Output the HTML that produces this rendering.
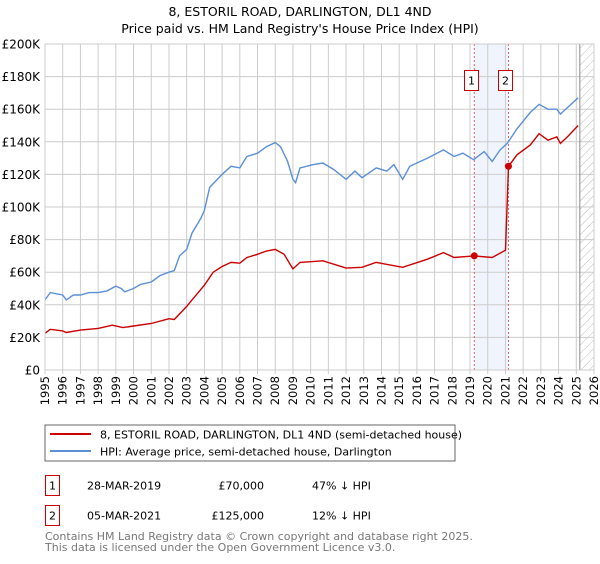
<!DOCTYPE html>
<html><head><meta charset="utf-8">
<style>
body{margin:0;background:#fff;width:600px;height:560px;overflow:hidden;font-family:"DejaVu Sans","Liberation Sans",sans-serif;}
svg text{font-family:"DejaVu Sans","Liberation Sans",sans-serif;}
</style></head>
<body>
<svg id="chart" width="600" height="560">
<defs>
<pattern id="hatch" width="6" height="6" patternUnits="userSpaceOnUse" patternTransform="rotate(45)">
<line x1="0" y1="0" x2="0" y2="6" stroke="#bbb" stroke-width="1"/>
</pattern>
</defs>
<text x="300" y="16" text-anchor="middle" font-size="12.5">8, ESTORIL ROAD, DARLINGTON, DL1 4ND</text>
<text x="300" y="33" text-anchor="middle" font-size="12.5">Price paid vs. HM Land Registry's House Price Index (HPI)</text>
<g id="grid"></g>
<g id="marks"></g>
<g id="axes"></g>
<rect x="45" y="425" width="410" height="36" fill="none" stroke="#666"/>
<line x1="50" y1="434" x2="91" y2="434" stroke="#cc0000" stroke-width="2"/>
<text x="100" y="438.5" font-size="11">8, ESTORIL ROAD, DARLINGTON, DL1 4ND (semi-detached house)</text>
<line x1="50" y1="451" x2="91" y2="451" stroke="#5b8fd6" stroke-width="2"/>
<text x="100" y="455.5" font-size="11">HPI: Average price, semi-detached house, Darlington</text>
<g>
<rect x="45.5" y="475.5" width="14" height="20" fill="none" stroke="#cc0000"/>
<text x="52.5" y="489.5" font-size="11" text-anchor="middle">1</text>
<text x="87" y="489.5" font-size="11">28-MAR-2019</text>
<text x="264" y="489.5" font-size="11" text-anchor="end">£70,000</text>
<text x="312" y="489.5" font-size="11">47% ↓ HPI</text>
</g>
<g>
<rect x="45.5" y="505.5" width="14" height="20" fill="none" stroke="#cc0000"/>
<text x="52.5" y="519.5" font-size="11" text-anchor="middle">2</text>
<text x="87" y="519.5" font-size="11">05-MAR-2021</text>
<text x="264" y="519.5" font-size="11" text-anchor="end">£125,000</text>
<text x="312" y="519.5" font-size="11">12% ↓ HPI</text>
</g>
<text x="45" y="540" font-size="11" fill="#777">Contains HM Land Registry data © Crown copyright and database right 2025.</text>
<text x="45" y="551" font-size="11" fill="#777">This data is licensed under the Open Government Licence v3.0.</text>
</svg>
<script>
const yearTicks=[1995,1996,1997,1998,1999,2000,2001,2002,2003,2004,2005,2006,2007,2008,2009,2010,2011,2012,2013,2014,2015,2016,2017,2018,2019,2020,2021,2022,2023,2024,2025,2026];
const valueTicks=[0,20,40,60,80,100,120,140,160,180,200];
const valueLabels=["£0","£20K","£40K","£60K","£80K","£100K","£120K","£140K","£160K","£180K","£200K"];
const hpiYears=[1995,1995.3,1996,1996.2,1996.6,1997,1997.5,1998,1998.5,1999,1999.3,1999.5,2000,2000.4,2001,2001.5,2002,2002.3,2002.6,2003,2003.3,2003.8,2004,2004.3,2005,2005.5,2006,2006.4,2007,2007.5,2008,2008.3,2008.7,2009,2009.15,2009.4,2010.15,2010.7,2011.3,2012.0,2012.5,2012.9,2013.7,2014.3,2014.7,2015.2,2015.6,2016.6,2017.5,2018.1,2018.6,2019.2,2019.8,2020.25,2020.7,2021.1,2021.65,2022.4,2022.9,2023.4,2023.9,2024.1,2024.5,2025.1];
const hpiValues=[43,47.5,46,43,46,46,47.5,47.5,48.5,51.5,50,48,50,52.5,54,58,60,61,70,74,84,93,98,112,120,125,124,131,133,137,139.5,137,128,117,115,124,126,127,123,117,122,118,124,122,126,117,125,130,135,131,133,129,134,128,135,139,148,158,163,160,160,157,161,167];
const priceYears=[1995,1995.3,1996,1996.2,1997,1998,1998.8,1999.4,2000,2001,2002,2002.3,2003,2003.3,2004,2004.5,2005,2005.5,2006,2006.4,2007,2007.5,2008,2008.5,2009,2009.4,2010.7,2012.0,2012.9,2013.7,2015.2,2016.6,2017.5,2018.1,2019.24,2020.25,2021.0,2021.17,2021.65,2022.4,2022.9,2023.4,2023.9,2024.1,2024.5,2025.1];
const priceValues=[22.5,25,24,23,24.5,25.5,27.5,26,27,28.5,31.5,31,39,43,52,60,63.5,66,65.5,69,71,73,74,71,62,66,67,62.5,63,66,63,68,72,69,70,69,73.5,125,132,138,145,141,143,139,143,150];
const saleYears=[2019.24,2021.17];
const saleValues=[70,125];
const saleLabels=["1","2"];

const X0=45,X1=594,Y0=370,Y1=44;
const xs=y=>X0+(y-1995)/(2026-1995)*(X1-X0);
const ys=v=>Y0-(v/200)*(Y0-Y1);
const NS="http://www.w3.org/2000/svg";
function mk(tag,attrs,parent){const e=document.createElementNS(NS,tag);for(const k in attrs)e.setAttribute(k,attrs[k]);parent.appendChild(e);return e;}
const grid=document.getElementById('grid'),marks=document.getElementById('marks'),axes=document.getElementById('axes');

let sh=mk('rect',{x:xs(saleYears[0]),y:Y1,width:xs(saleYears[1])-xs(saleYears[0]),height:Y0-Y1,fill:'#f0f4fc'},grid);


let ht=mk('rect',{x:xs(2025.2),y:Y1,width:X1-xs(2025.2),height:Y0-Y1,fill:'url(#hatch)'},grid);



yearTicks.forEach(t=>{
  let l=mk('line',{x1:xs(t),x2:xs(t),y1:Y1,y2:Y0+4,stroke:'#ccc','stroke-width':1},grid);
  
  
  let x=xs(t)+4,y=Y0+6;
  let tx=mk('text',{x:x,y:y,'text-anchor':'end','font-size':11.5,transform:`rotate(-90 ${x} ${y})`},axes);
  tx.textContent=t;
  
  
});
valueTicks.forEach((v,i)=>{
  let l=mk('line',{x1:X0,x2:X1,y1:ys(v),y2:ys(v),stroke:'#ccc','stroke-width':1},grid);
  
  
  let tx=mk('text',{x:X0-5,y:ys(v)+4.5,'text-anchor':'end','font-size':12},axes);
  tx.textContent=valueLabels[i];
  
  
});
let el=mk('line',{x1:xs(2025.2),x2:xs(2025.2),y1:Y1,y2:Y0,stroke:'#888','stroke-width':1},grid);



saleYears.forEach((s,i)=>{
  let l=mk('line',{x1:xs(s),x2:xs(s),y1:Y1,y2:Y0,stroke:'#e06060','stroke-width':1,'stroke-dasharray':'2,2'},marks);
  
  
});

function pathOf(xsA,vs){return xsA.map((x,i)=>(i?'L':'M')+xs(x).toFixed(1)+','+ys(vs[i]).toFixed(1)).join('');}
let hp=mk('path',{d:pathOf(hpiYears,hpiValues),fill:'none',stroke:'#5b8fd6','stroke-width':1.4},marks);


let pp=mk('path',{d:pathOf(priceYears,priceValues),fill:'none',stroke:'#cc0000','stroke-width':1.4},marks);



saleYears.forEach((s,i)=>{
  let c=mk('circle',{cx:xs(s),cy:ys(saleValues[i]),r:3.5,fill:'#cc0000'},marks);
  
  
  let bx=Math.round(xs(s))-10+0.5;
  let r=mk('rect',{x:bx,y:70.5,width:14,height:20,fill:'#fff',stroke:'#cc0000'},marks);
  
  
  let t=mk('text',{x:bx+7,y:84.5,'text-anchor':'middle','font-size':11},marks);
  t.textContent=saleLabels[i];
  
  
});
let fr=mk('rect',{x:X0,y:Y1,width:X1-X0,height:Y0-Y1,fill:'none',stroke:'#ccc'},axes);


</script>
</body></html>
